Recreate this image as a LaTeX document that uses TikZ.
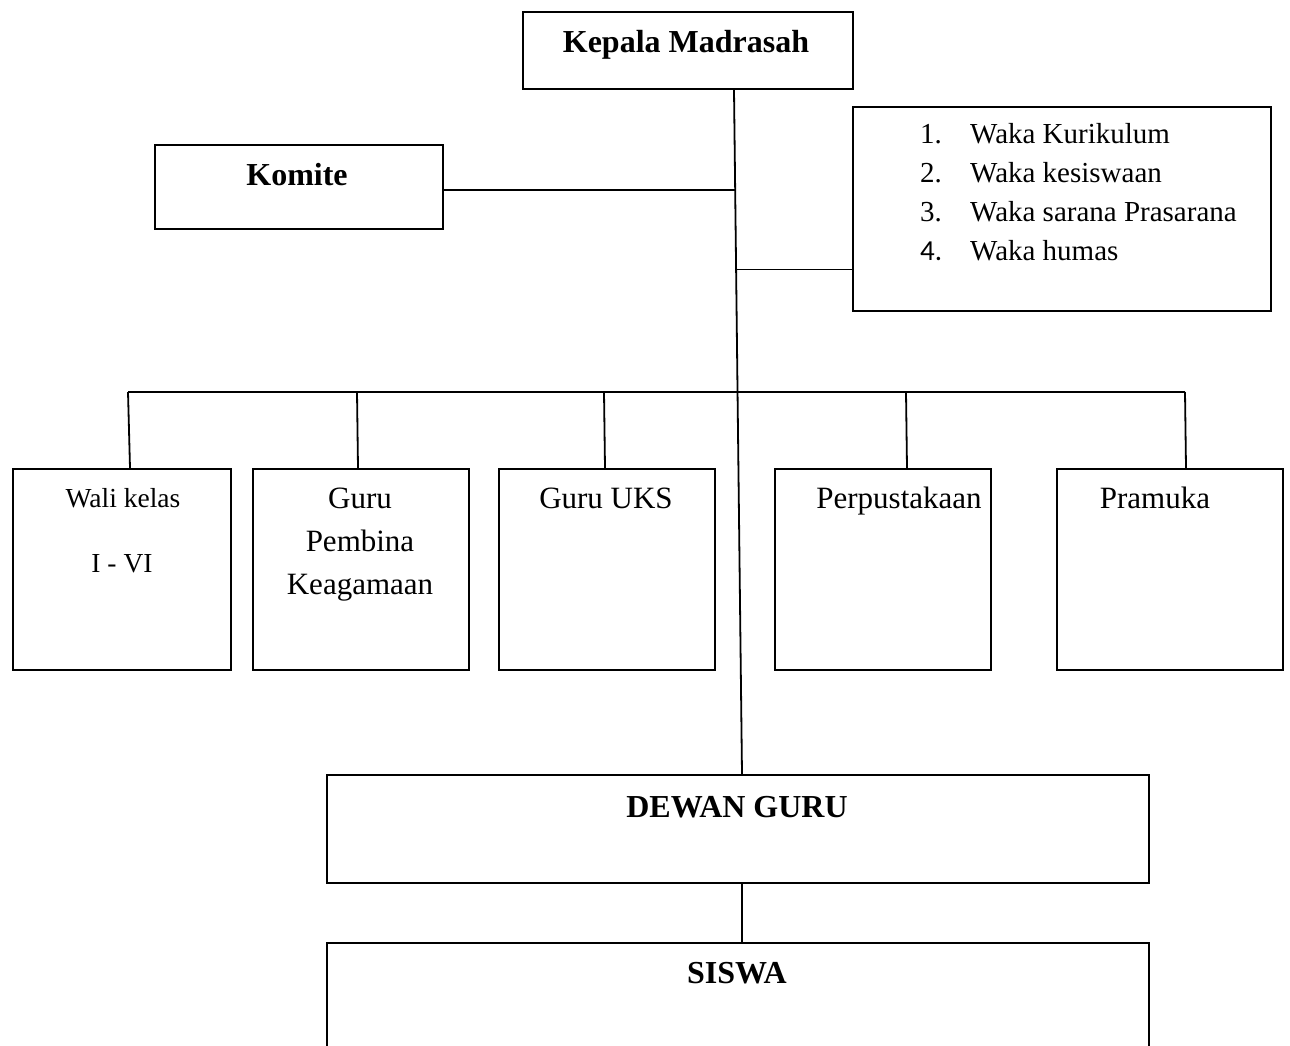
\documentclass[tikz,border=0pt]{standalone}
\usepackage{fontspec}
\setmainfont{Liberation Serif}
\newfontfamily\numfont{Carlito}
\usetikzlibrary{calc}
\begin{document}
\begin{tikzpicture}[x=1pt,y=-1pt,
  box/.style={draw, line width=2pt, anchor=north west, inner sep=0pt},
  conn/.style={line width=1.8pt},
  lbl/.style={anchor=base, inner sep=0pt, font=\fontsize{31}{37}\selectfont},
  blbl/.style={anchor=base, inner sep=0pt, font=\fontsize{32}{38}\selectfont\bfseries},
  wlbl/.style={anchor=base west, inner sep=0pt, font=\fontsize{29}{35}\selectfont},
  wali/.style={anchor=base, inner sep=0pt, font=\fontsize{27.5}{33}\selectfont}]
\useasboundingbox (0,0) rectangle (1290,1046);
\clip (0,0) rectangle (1290,1046);
% boxes
\node[box, minimum width=330pt, minimum height=77pt] (kepala) at (522,11) {};
\node[box, minimum width=288pt, minimum height=84pt] (komite) at (154,144) {};
\node[box, minimum width=418pt, minimum height=204pt] (waka) at (852,106) {};
\node[box, minimum width=218pt, minimum height=201pt] (walib) at (12,468) {};
\node[box, minimum width=216pt, minimum height=201pt] (guru) at (252,468) {};
\node[box, minimum width=216pt, minimum height=201pt] (uks) at (498,468) {};
\node[box, minimum width=216pt, minimum height=201pt] (perp) at (774,468) {};
\node[box, minimum width=226pt, minimum height=201pt] (pramuka) at (1056,468) {};
\node[box, minimum width=822pt, minimum height=108pt] (dewan) at (326,774) {};
\node[box, minimum width=822pt, minimum height=140pt] (siswa) at (326,942) {};
% texts
\node[blbl] (tkepala) at (686,53) {Kepala Madrasah};
\node[blbl] (tkomite) at (297,185) {Komite};
\node[wlbl] (n1) at (920,143) {1.};
\node[wlbl] (w1) at (970,143) {Waka Kurikulum};
\node[wlbl] (n2) at (920,182) {2.};
\node[wlbl] (w2) at (970,182) {Waka kesiswaan};
\node[wlbl] (n3) at (920,221) {3.};
\node[wlbl] (w3) at (970,221) {Waka sarana Prasarana};
\node[wlbl, font=\fontsize{29}{35}\numfont] (n4) at (920,260) {4.};
\node[wlbl] (w4) at (970,260) {Waka humas};
\node[wali] (twali1) at (123,507) {Wali kelas};
\node[wali] (twali2) at (122,572) {I - VI};
\node[lbl] (tguru1) at (360,508) {Guru};
\node[lbl] (tguru2) at (360,551) {Pembina};
\node[lbl] (tguru3) at (360,594) {Keagamaan};
\node[lbl] (tuks) at (606,508) {Guru UKS};
\node[lbl] (tperp) at (899,508) {Perpustakaan};
\node[lbl] (tpram) at (1155,508) {Pramuka};
\node[blbl] (tdewan) at (737,817) {DEWAN GURU};
\node[blbl] (tsiswa) at (737,983) {SISWA};
% connectors
\coordinate (ktop) at ($(kepala.south west)+(212,0)$);
\coordinate (dtop) at ($(dewan.north west)+(416,0)$);
\draw[conn] (ktop) -- (dtop);
\coordinate (kj) at ($(ktop)!{(188-88)/686}!(dtop)$);
\draw[conn] (komite.east |- kj) -- (kj);
\coordinate (wj) at ($(ktop)!{(268-88)/686}!(dtop)$);
\draw[conn] (wj) -- (waka.west |- wj);
\coordinate (bl) at (128,392);
\coordinate (br) at (1185,392);
\draw[conn] (bl) -- (br);
\draw[conn] (bl) -- ($(walib.north west)+(118,0)$);
\draw[conn] (357,392) -- ($(guru.north west)+(106,0)$);
\draw[conn] (604,392) -- ($(uks.north west)+(107,0)$);
\draw[conn] (906,392) -- ($(perp.north west)+(133,0)$);
\draw[conn] (br) -- ($(pramuka.north west)+(130,0)$);
\draw[conn] ($(dewan.south west)+(416,0)$) -- ($(siswa.north west)+(416,0)$);
\end{tikzpicture}
\end{document}
